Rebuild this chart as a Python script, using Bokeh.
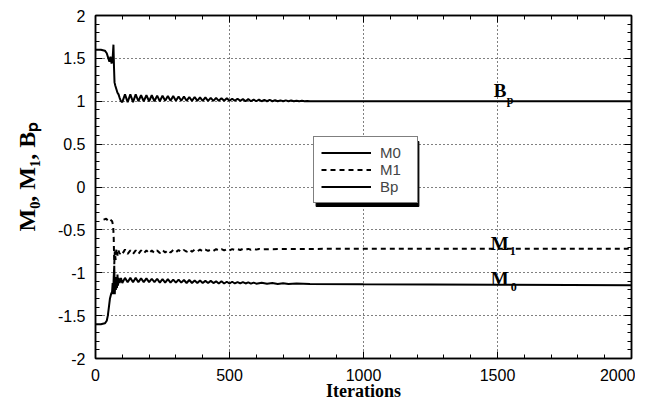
from bokeh.plotting import figure
from bokeh.models import (LinearAxis, FixedTicker, NumeralTickFormatter, CustomJSTickFormatter,
                          Label, Legend, LegendItem, Range1d, Title)
from bokeh.embed import file_html
from bokeh.resources import INLINE

# ---------------- data ----------------
x_ticks = [0, 500, 1000, 1500, 2000]
y_ticks = [-2, -1.5, -1, -0.5, 0, 0.5, 1, 1.5, 2]

bp_x = [0, 20, 35, 42, 48, 52, 56, 60, 64, 67, 69, 71, 74, 78, 82, 86, 90, 95, 100,
        110, 120, 130, 140, 150, 160, 170, 180, 190, 200, 210, 220, 230, 240, 250, 260,
        270, 280, 290, 300, 310, 320, 330, 340, 350, 360, 370, 380, 390, 400, 410, 420,
        430, 440, 450, 460, 470, 480, 490, 500, 510, 520, 530, 540, 550, 560, 570, 580,
        590, 600, 610, 620, 630, 640, 650, 660, 670, 680, 690, 700, 710, 720, 730, 740,
        750, 760, 770, 780, 790, 800, 900, 1000, 1500, 2000]
bp_y = [1.60, 1.60, 1.59, 1.56, 1.50, 1.46, 1.52, 1.44, 1.50, 1.66, 1.40, 1.22, 1.18, 1.14,
        1.10, 1.08, 1.04, 1.00, 0.99,
        1.08, 0.99, 1.08, 0.99, 1.08, 1.00, 1.07, 1.00, 1.07, 1.00, 1.07, 1.00, 1.065, 1.00,
        1.065, 1.005, 1.06, 1.005, 1.06, 1.005, 1.055, 1.005, 1.055, 1.005, 1.05, 1.005,
        1.05, 1.005, 1.045, 1.005, 1.045, 1.005, 1.04, 1.005, 1.04, 1.005, 1.035, 1.005,
        1.035, 1.005, 1.03, 1.005, 1.03, 1.005, 1.025, 1.0, 1.025, 1.0, 1.02, 1.0, 1.02,
        1.0, 1.015, 1.0, 1.015, 1.0, 1.012, 1.0, 1.01, 1.0, 1.01, 1.0, 1.008, 1.0, 1.006,
        1.0, 1.005, 1.0, 1.004, 1.0, 1.0, 1.0, 1.0, 1.0]

m1_x = [30, 40, 48, 55, 62, 66, 68, 70, 72, 75, 78, 82, 86, 90, 95, 100,
        110, 120, 130, 140, 150, 160, 170, 180, 190, 200, 210, 220, 230, 240, 250, 260,
        270, 280, 290, 300, 310, 320, 330, 340, 350, 360, 370, 380, 390, 400, 410, 420,
        430, 440, 450, 460, 470, 480, 490, 500, 510, 520, 530, 540, 550, 560, 570, 580,
        590, 600, 610, 620, 650, 700, 800, 1000, 1500, 2000]
m1_y = [-0.38, -0.37, -0.40, -0.38, -0.40, -0.45, -0.60, -0.90, -0.75, -0.85, -0.72, -0.80,
        -0.74, -0.78, -0.76, -0.78,
        -0.73, -0.78, -0.74, -0.78, -0.74, -0.78, -0.74, -0.775, -0.74, -0.775, -0.74,
        -0.77, -0.74, -0.77, -0.735, -0.765, -0.735, -0.765, -0.735, -0.76, -0.735, -0.76,
        -0.735, -0.755, -0.73, -0.755, -0.73, -0.75, -0.73, -0.75, -0.73, -0.745, -0.73,
        -0.745, -0.725, -0.74, -0.725, -0.74, -0.725, -0.74, -0.725, -0.735, -0.725,
        -0.735, -0.722, -0.733, -0.722, -0.732, -0.722, -0.73, -0.722, -0.728,
        -0.725, -0.723, -0.722, -0.72, -0.72, -0.72]

m0_x = [0, 20, 35, 42, 46, 50, 54, 58, 62, 64, 66, 68, 70, 72, 74, 76, 78, 80, 82, 84, 86,
        90, 95, 100,
        110, 120, 130, 140, 150, 160, 170, 180, 190, 200, 210, 220, 230, 240, 250, 260,
        270, 280, 290, 300, 310, 320, 330, 340, 350, 360, 370, 380, 390, 400, 410, 420,
        430, 440, 450, 460, 470, 480, 490, 500, 510, 520, 530, 540, 550, 560, 570, 580,
        590, 600, 620, 640, 660, 680, 700, 720, 750, 800, 1000, 1500, 2000]
m0_y = [-1.60, -1.60, -1.59, -1.56, -1.50, -1.40, -1.30, -1.25, -1.22, -1.12, -1.25, -1.05,
        -0.92, -1.25, -1.05, -1.20, -1.08, -1.18, -1.02, -1.15, -1.06, -1.12, -1.06, -1.12,
        -1.06, -1.11, -1.06, -1.11, -1.06, -1.11, -1.065, -1.11, -1.065, -1.11, -1.07,
        -1.11, -1.07, -1.115, -1.075, -1.115, -1.075, -1.115, -1.08, -1.115, -1.08, -1.115,
        -1.085, -1.12, -1.085, -1.12, -1.09, -1.12, -1.09, -1.12, -1.095, -1.12, -1.095,
        -1.12, -1.10, -1.125, -1.10, -1.125, -1.105, -1.125, -1.105, -1.125, -1.11, -1.125,
        -1.11, -1.125, -1.112, -1.127, -1.115, -1.127, -1.117, -1.128, -1.12, -1.13,
        -1.122, -1.13, -1.125, -1.13, -1.135, -1.14, -1.145]

# ---------------- geometry (canvas pixels of the frame) ----------------
FX0, FX1, FY0, FY1 = 94, 631, 15, 358
W, H = 635, 403


def dx(px):
    return (px - FX0) * 2000.0 / (FX1 - FX0)


def dy(py):
    return 2.0 - (py - FY0) * 4.0 / (FY1 - FY0)


SERIF = "Liberation Serif"
SANS = "Liberation Sans"

p = figure(width=W, height=H, output_backend="svg", toolbar_location=None,
           x_range=Range1d(0, 2000), y_range=Range1d(-2, 2),
           min_border_left=FX0, min_border_right=W - FX1, min_border_top=FY0,
           min_border_bottom=H - FY1)
p.background_fill_color = "white"
p.border_fill_color = "white"
p.outline_line_color = "black"
p.outline_line_width = 1.5

xt = FixedTicker(ticks=x_ticks, minor_ticks=list(range(0, 2001, 100)))
yt = FixedTicker(ticks=y_ticks, minor_ticks=[round(-2 + 0.1 * i, 1) for i in range(41)])


def style_axis(ax, ticker, show_labels):
    ax.ticker = ticker
    ax.axis_line_color = "black"
    ax.axis_line_width = 1.5
    ax.major_tick_in = 7
    ax.major_tick_out = 0
    ax.minor_tick_in = 4
    ax.minor_tick_out = 0
    ax.major_tick_line_color = "black"
    ax.minor_tick_line_color = "black"
    ax.major_tick_line_width = 1
    ax.minor_tick_line_width = 1
    ax.major_label_text_font = SANS
    ax.major_label_text_font_size = "16px"
    ax.major_label_text_color = "black"
    if not show_labels:
        ax.formatter = CustomJSTickFormatter(code="return ''")
        ax.major_label_standoff = 0
        ax.major_label_text_font_size = "0px"


p.xaxis.formatter = NumeralTickFormatter(format="0")
p.yaxis.formatter = NumeralTickFormatter(format="0.[0]")
style_axis(p.xaxis[0], xt, True)
style_axis(p.yaxis[0], yt, True)
p.xaxis.major_label_standoff = 10
p.yaxis.major_label_standoff = 10

# x-axis title
p.xaxis.axis_label = "Iterations"
p.xaxis.axis_label_text_font = SERIF
p.xaxis.axis_label_text_font_style = "bold"
p.xaxis.axis_label_text_font_size = "18px"
p.xaxis.axis_label_text_color = "black"
p.xaxis.axis_label_standoff = -3

top = LinearAxis()
right = LinearAxis()
style_axis(top, xt, False)
style_axis(right, yt, False)
p.add_layout(top, "above")
p.add_layout(right, "right")

for g in (p.xgrid[0], p.ygrid[0]):
    g.grid_line_color = "black"
    g.grid_line_dash = "1 3"
    g.grid_line_width = 1
    g.grid_line_alpha = 1.0
p.xgrid.ticker = xt
p.ygrid.ticker = yt

# legend shadow (drawn behind the legend box)
LEG_L, LEG_B = 312, 203
LEG_W, LEG_H = 103, 65
p.quad(left=[dx(LEG_L + 3)], right=[dx(LEG_L + LEG_W + 3)], top=[dy(LEG_B - LEG_H + 3)],
       bottom=[dy(LEG_B + 3)], fill_color="black", line_color="black")

r_m0 = p.line(m0_x, m0_y, line_color="black", line_width=2)
r_m1 = p.line(m1_x, m1_y, line_color="black", line_width=2, line_dash="5 4")
r_bp = p.line(bp_x, bp_y, line_color="black", line_width=2)

legend = Legend(items=[LegendItem(label="M0", renderers=[r_m0]),
                       LegendItem(label="M1", renderers=[r_m1]),
                       LegendItem(label="Bp", renderers=[r_bp])],
                location=(LEG_L - FX0, FY1 - LEG_B))
legend.border_line_color = "black"
legend.border_line_width = 1.5
legend.background_fill_color = "white"
legend.background_fill_alpha = 1
legend.label_text_font = SANS
legend.label_text_font_size = "15px"
legend.glyph_width = 50
legend.glyph_height = 17
legend.label_height = 17
legend.label_width = 30
legend.label_standoff = 9
legend.padding = 7
legend.spacing = 0
legend.margin = 0
p.add_layout(legend)


def lab(text, px, py, size):
    p.add_layout(Label(x=dx(px), y=dy(py), text=text,
                       text_font=SERIF, text_font_style="bold",
                       text_font_size=size, text_color="black",
                       text_align="left", text_baseline="alphabetic"))


# curve labels
lab("B", 493, 90, "19px")
lab("p", 506, 99, "12px")
lab("M", 490, 243, "19px")
lab("1", 509, 250, "12px")
lab("M", 490, 278, "19px")
lab("0", 510, 286, "12px")

# y-axis title (left side panel, starting near y = 231 on the canvas)
ytitle = Title(text="M\u2080, M\u2081, B\u209a", align="left", offset=FY1 - 231,
               vertical_align="top", standoff=26,
               text_font=SERIF, text_font_style="bold", text_font_size="24px",
               text_color="black")
p.add_layout(ytitle, "left")

open("out.html", "w").write(file_html(p, INLINE))
